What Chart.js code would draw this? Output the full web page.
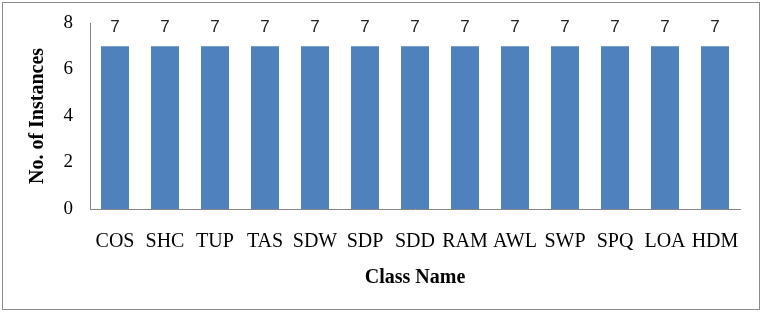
<!DOCTYPE html>
<html>
<head>
<meta charset="utf-8">
<script src="https://cdn.jsdelivr.net/npm/chart.js@4"></script>
<style>
  body { margin: 0; background: #fff; }
  #wrap { position: relative; width: 763px; height: 313px; }
</style>
</head>
<body>
<div id="wrap"><canvas id="chart" width="763" height="313"></canvas></div>
<script>
// data
var classNames = ['COS', 'SHC', 'TUP', 'TAS', 'SDW', 'SDP', 'SDD', 'RAM', 'AWL', 'SWP', 'SPQ', 'LOA', 'HDM'];
var instances = [7, 7, 7, 7, 7, 7, 7, 7, 7, 7, 7, 7, 7];
var yTicks = [0, 2, 4, 6, 8];

var serif = '"Liberation Serif", "Times New Roman", serif';

// outer frame round the figure
var framePlugin = {
    id: 'frame',
    afterDraw: function(chart) {
        var ctx = chart.ctx;
        ctx.save();
        ctx.strokeStyle = '#8c8c8c';
        ctx.lineWidth = 1;
        ctx.strokeRect(2.5, 2.5, 757, 307);
        ctx.restore();
    }
};

// value labels above the bars (no datalabels plugin offline)
var valueLabels = {
    id: 'valueLabels',
    afterDatasetsDraw: function(chart) {
        var ctx = chart.ctx;
        var meta = chart.getDatasetMeta(0);
        ctx.save();
        ctx.font = '17px "Liberation Sans", Arial, sans-serif';
        ctx.fillStyle = '#222';
        ctx.textAlign = 'center';
        ctx.textBaseline = 'bottom';
        meta.data.forEach(function(bar, i) {
            ctx.fillText(String(chart.data.datasets[0].data[i]), bar.x, bar.y - 10);
        });
        ctx.restore();
    }
};

new Chart(document.getElementById('chart'), {
    type: 'bar',
    data: {
        labels: classNames,
        datasets: [{
            label: 'No. of Instances',
            data: instances,
            backgroundColor: '#4f81bd',
            borderWidth: 0,
            barPercentage: 0.56,
            categoryPercentage: 1.0
        }]
    },
    options: {
        responsive: false,
        animation: false,
        layout: { padding: { left: 0, top: 23, right: 23, bottom: 0 } },
        plugins: {
            legend: { display: false },
            tooltip: { enabled: false }
        },
        scales: {
            x: {
                grid: { display: false, drawTicks: false },
                border: { display: true, color: '#868686', width: 1 },
                ticks: {
                    color: '#000',
                    font: { family: serif, size: 20 },
                    padding: 21,
                    maxRotation: 0,
                    autoSkip: false
                },
                title: {
                    display: true,
                    text: 'Class Name',
                    color: '#000',
                    font: { family: serif, size: 20, weight: 'bold' },
                    padding: { top: 0, bottom: 23 }
                },
                afterFit: function(scale) { scale.height = 104; }
            },
            y: {
                min: 0,
                max: 8,
                grid: { display: false, drawTicks: false },
                border: { display: true, color: '#868686', width: 1 },
                afterBuildTicks: function(scale) {
                    scale.ticks = yTicks.map(function(v) { return { value: v }; });
                },
                ticks: {
                    color: '#000',
                    font: { family: serif, size: 19 },
                    padding: 17
                },
                title: {
                    display: true,
                    text: 'No. of Instances',
                    color: '#000',
                    font: { family: serif, size: 20, weight: 'bold' },
                    padding: { top: 26, bottom: 0 }
                },
                afterFit: function(scale) {
                    scale.width = 90;
                    // keep the top of the plot at the layout padding
                    scale.paddingTop = 0;
                    scale.paddingBottom = 0;
                }
            }
        }
    },
    plugins: [framePlugin, valueLabels]
});
</script>
</body>
</html>
